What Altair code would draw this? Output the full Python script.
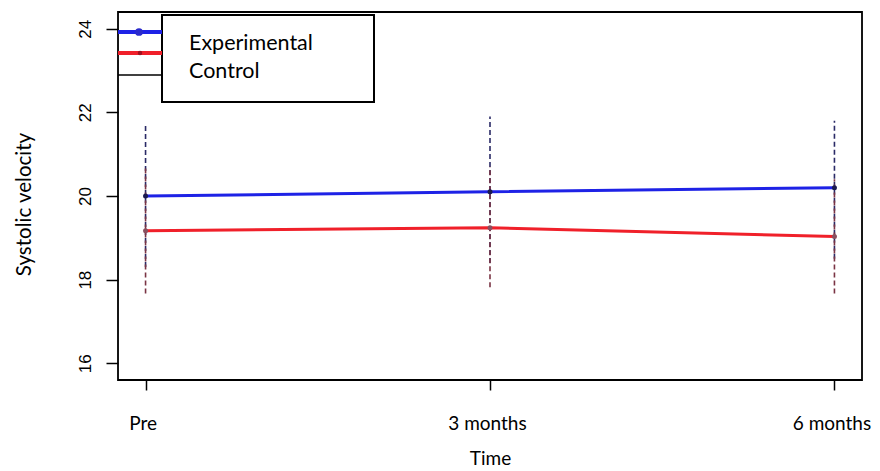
import altair as alt
import pandas as pd

# ---- data ----
time_idx = [1, 2, 3]
time_labels = ["Pre", "3 months", "6 months"]
groups = ["Experimental", "Control"]
exp_vals = [20.0, 20.1, 20.2]
ctrl_vals = [19.17, 19.24, 19.03]
exp_lo = [18.3, 18.4, 18.5]
exp_hi = [21.7, 21.9, 21.8]
ctrl_lo = [17.67, 17.82, 17.67]
ctrl_hi = [20.67, 20.7, 20.4]
y_ticks = [16, 18, 20, 22, 24]

rows = []
for g, vals, lo, hi in [("Experimental", exp_vals, exp_lo, exp_hi),
                        ("Control", ctrl_vals, ctrl_lo, ctrl_hi)]:
    for t, v, l, h in zip(time_idx, vals, lo, hi):
        rows.append({"group": g, "t": t, "value": v, "lo": l, "hi": h})
df = pd.DataFrame(rows)

label_expr = ("datum.value == 1 ? '%s' : datum.value == 2 ? '%s' : "
              "datum.value == 3 ? '%s' : ''") % tuple(time_labels)

ydom = alt.Scale(domain=[15.6, 24.4], nice=False, zero=False)

x_enc = alt.X("t:Q", scale=alt.Scale(domain=[0.92, 3.08], nice=False, zero=False),
              axis=alt.Axis(values=time_idx, labelExpr=label_expr, title="Time",
                            domain=False, tickSize=10, tickWidth=1.5, tickColor="black",
                            labelPadding=24, labelFont="Lato", labelFontSize=19,
                            labelOffset=-3,
                            labelColor="black", grid=False, labelOverlap=False,
                            labelBound=False,
                            titleFont="Lato", titleFontSize=19, titleFontWeight="normal",
                            titleX=372, titleY=78, titleAlign="center",
                            titleBaseline="middle", titleColor="black"))
y_enc = alt.Y("value:Q", scale=ydom,
              axis=alt.Axis(values=y_ticks, title="Systolic velocity", domain=False,
                            tickSize=12, tickWidth=1.5, tickColor="black",
                            labelAngle=270, labelAlign="center", labelBaseline="bottom",
                            labelPadding=12, labelFont="Liberation Sans",
                            labelFontSize=17, labelColor="black", grid=False,
                            titleFont="Lato", titleFontSize=20.5, titleFontWeight="normal",
                            titleAngle=270, titleX=-94, titleY=192, titleAlign="center",
                            titleBaseline="middle", titleColor="black"))

color_scale = alt.Scale(domain=groups, range=["#1e22e6", "#f0202a"])
err_scale = alt.Scale(domain=groups, range=["#2a2a66", "#7a3444"])

base = alt.Chart(df)

err_exp = base.transform_filter(alt.datum.group == "Experimental").mark_rule(
    strokeDash=[5, 3], strokeWidth=1.6).encode(
    x=x_enc, y=alt.Y("lo:Q", scale=ydom), y2="hi:Q",
    color=alt.Color("group:N", scale=err_scale, legend=None))
err_ctrl = base.transform_filter(alt.datum.group == "Control").mark_rule(
    strokeDash=[5, 3], strokeWidth=1.6).encode(
    x="t:Q", y="lo:Q", y2="hi:Q",
    color=alt.Color("group:N", scale=err_scale, legend=None))

lines = base.mark_line(strokeWidth=3).encode(
    x="t:Q", y=y_enc, detail="group:N",
    stroke=alt.Stroke("group:N", scale=color_scale, legend=None))

pts = base.mark_point(size=25, filled=True, opacity=1).encode(
    x="t:Q", y="value:Q",
    fill=alt.Fill("group:N", scale=alt.Scale(domain=groups, range=["#1a1a50", "#8a5060"]),
                  legend=None))

one = alt.Chart(pd.DataFrame({"a": [0]}))
frame = one.mark_rect(fill=None, stroke="black", strokeWidth=1.8).encode(
    x=alt.value(0), x2=alt.value(744), y=alt.value(0), y2=alt.value(368))
leg_box = one.mark_rect(fill="white", stroke="black", strokeWidth=2).encode(
    x=alt.value(44), x2=alt.value(256), y=alt.value(3), y2=alt.value(90))
leg_blue = one.mark_rule(color="#1e22e6", strokeWidth=4).encode(
    x=alt.value(0), x2=alt.value(44), y=alt.value(20))
leg_red = one.mark_rule(color="#f0202a", strokeWidth=4).encode(
    x=alt.value(0), x2=alt.value(44), y=alt.value(41))
leg_black = one.mark_rule(color="black", strokeWidth=1.5).encode(
    x=alt.value(0), x2=alt.value(44), y=alt.value(63))
leg_bdot = one.mark_point(filled=True, size=60, color="#2a2acc", opacity=1).encode(
    x=alt.value(21), y=alt.value(20))
leg_rdot = one.mark_point(filled=True, size=20, color="#a01020", opacity=1).encode(
    x=alt.value(22), y=alt.value(41))
leg_t1 = one.mark_text(text=groups[0], align="left", baseline="middle", font="Lato",
                       fontSize=21.5, color="black").encode(x=alt.value(71), y=alt.value(32))
leg_t2 = one.mark_text(text=groups[1], align="left", baseline="middle", font="Lato",
                       fontSize=21.5, color="black").encode(x=alt.value(71), y=alt.value(60))

chart = alt.layer(err_exp, err_ctrl, lines, pts, frame, leg_box, leg_blue, leg_red,
                  leg_black, leg_bdot, leg_rdot, leg_t1, leg_t2).resolve_scale(
    color="independent").properties(
    width=744, height=368,
    autosize=alt.AutoSizeParams(type="none"),
    padding={"left": 110, "top": 4, "right": 10, "bottom": 90},
).configure_view(stroke=None).configure(background="white")

chart.save("out.html", embed_options={"renderer": "svg", "actions": False})
